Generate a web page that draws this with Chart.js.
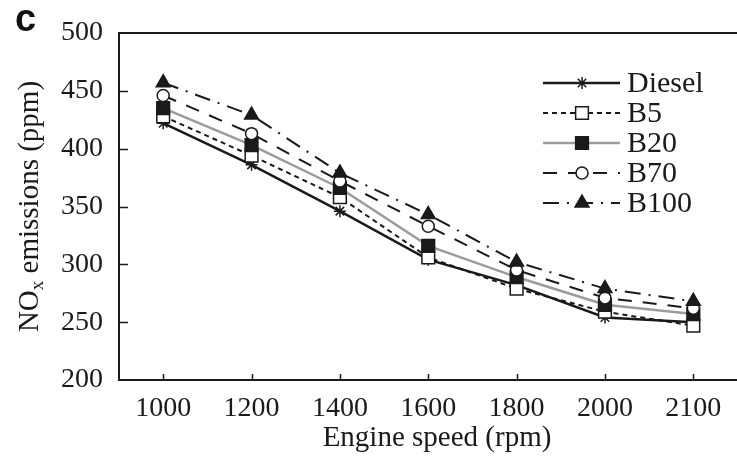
<!DOCTYPE html>
<html lang="en">
<head>
<meta charset="UTF-8">
<title>NOx emissions vs engine speed</title>
<script src="https://cdn.jsdelivr.net/npm/chart.js"></script>
<style>
  html, body { margin: 0; padding: 0; background: #fff; overflow: hidden; }
  #wrap { width: 748px; height: 456px; }
</style>
</head>
<body>
<div id="wrap"><canvas id="noxChart" width="748" height="456"></canvas></div>
<script>
// engine speed categories (rpm)
const speeds = ['1000', '1200', '1400', '1600', '1800', '2000', '2100'];

// NOx emissions (ppm)
const diesel = [422, 386, 346, 304, 282, 254, 250];
const b5     = [428, 394, 358, 306, 279, 259, 247];
const b20    = [435, 403, 366, 316, 289, 265, 257];
const b70    = [446, 413, 372, 333, 295, 271, 262];
const b100   = [457, 429, 379, 343, 302, 279, 268];

const seriesNames = ['Diesel', 'B5', 'B20', 'B70', 'B100'];
const yTicks = [200, 250, 300, 350, 400, 450, 500];

const serif = "'Liberation Serif', 'Times New Roman', serif";
const ink = '#1a1a1a';

// top border, inward ticks, legend and axis titles
const frame = {
    id: 'frame',
    afterDraw(chart) {
        const { ctx, chartArea: a, scales: { x, y } } = chart;
        ctx.save();
        ctx.strokeStyle = ink;
        ctx.lineWidth = 2;
        ctx.beginPath();
        ctx.moveTo(a.left - 1, a.top);
        ctx.lineTo(a.right, a.top);
        ctx.stroke();

        ctx.lineWidth = 1.5;
        yTicks.slice(1, -1).forEach(v => {
            const py = Math.round(y.getPixelForValue(v)) + 0.5;
            ctx.beginPath();
            ctx.moveTo(a.left, py);
            ctx.lineTo(a.left + 9, py);
            ctx.stroke();
        });
        speeds.forEach((s, i) => {
            const px = Math.round(x.getPixelForValue(i)) + 0.5;
            ctx.beginPath();
            ctx.moveTo(px, a.bottom);
            ctx.lineTo(px, a.bottom - 6);
            ctx.stroke();
        });

        // legend: line + marker + name
        chart.data.datasets.forEach((ds, i) => {
            const ly = 83 + i * 30;
            ctx.save();
            ctx.strokeStyle = ds.borderColor;
            ctx.lineWidth = ds.borderWidth;
            ctx.setLineDash(ds.borderDash || []);
            ctx.beginPath();
            ctx.moveTo(543, ly);
            ctx.lineTo(620, ly);
            ctx.stroke();
            ctx.setLineDash([]);
            ctx.fillStyle = ds.pointBackgroundColor;
            ctx.strokeStyle = ds.pointBorderColor;
            ctx.lineWidth = ds.pointBorderWidth;
            Chart.helpers.drawPoint(ctx, {
                pointStyle: ds.pointStyle,
                radius: ds.pointRadius,
                rotation: 0,
                borderWidth: ds.pointBorderWidth
            }, 582, ly);
            ctx.restore();

            ctx.fillStyle = ink;
            ctx.font = '30px ' + serif;
            ctx.textAlign = 'left';
            ctx.textBaseline = 'middle';
            ctx.fillText(ds.label, 627, ly + 1);
        });

        // x title
        ctx.fillStyle = ink;
        ctx.font = '29px ' + serif;
        ctx.textAlign = 'center';
        ctx.textBaseline = 'middle';
        ctx.fillText('Engine speed (rpm)', 437, 438);

        // y title with subscript x
        const big = '29px ' + serif, small = '19px ' + serif;
        ctx.font = big;
        const wNO = ctx.measureText('NO').width;
        const wRest = ctx.measureText(' emissions (ppm)').width;
        ctx.font = small;
        const wx = ctx.measureText('x').width;
        const total = wNO + wx + wRest;
        ctx.translate(28, (a.top + a.bottom) / 2);
        ctx.rotate(-Math.PI / 2);
        ctx.textAlign = 'left';
        ctx.textBaseline = 'alphabetic';
        let cx = -total / 2;
        ctx.font = big;
        ctx.fillText('NO', cx, 10);
        cx += wNO;
        ctx.font = small;
        ctx.fillText('x', cx, 15);
        cx += wx;
        ctx.font = big;
        ctx.fillText(' emissions (ppm)', cx, 10);
        ctx.restore();

        // panel letter
        ctx.save();
        ctx.fillStyle = '#111';
        ctx.font = "bold 38px 'Liberation Sans', Arial, sans-serif";
        ctx.textAlign = 'left';
        ctx.textBaseline = 'alphabetic';
        ctx.fillText('c', 15, 31);
        ctx.restore();
    }
};

new Chart(document.getElementById('noxChart').getContext('2d'), {
    type: 'line',
    data: {
        labels: speeds,
        datasets: [
            {
                label: seriesNames[0], data: diesel, order: 5,
                borderColor: ink, borderWidth: 2.5,
                pointStyle: 'star', pointRadius: 6,
                pointBackgroundColor: ink, pointBorderColor: ink, pointBorderWidth: 1.5
            },
            {
                label: seriesNames[1], data: b5, order: 4,
                borderColor: ink, borderWidth: 2, borderDash: [5, 4],
                pointStyle: 'rect', pointRadius: 9,
                pointBackgroundColor: '#fff', pointBorderColor: ink, pointBorderWidth: 1.5
            },
            {
                label: seriesNames[2], data: b20, order: 3,
                borderColor: '#9c9c9c', borderWidth: 2.5,
                pointStyle: 'rect', pointRadius: 9,
                pointBackgroundColor: ink, pointBorderColor: ink, pointBorderWidth: 1.5
            },
            {
                label: seriesNames[3], data: b70, order: 2,
                borderColor: ink, borderWidth: 2, borderDash: [14, 11],
                pointStyle: 'circle', pointRadius: 6,
                pointBackgroundColor: '#fff', pointBorderColor: ink, pointBorderWidth: 1.5
            },
            {
                label: seriesNames[4], data: b100, order: 1,
                borderColor: ink, borderWidth: 2, borderDash: [16, 8, 2, 8],
                pointStyle: 'triangle', pointRadius: 8,
                pointBackgroundColor: ink, pointBorderColor: ink, pointBorderWidth: 1.5
            }
        ]
    },
    options: {
        responsive: false,
        animation: false,
        devicePixelRatio: 1,
        layout: { padding: { top: 33, right: 0, bottom: 0, left: 0 } },
        plugins: {
            legend: { display: false },
            tooltip: { enabled: false }
        },
        elements: { line: { tension: 0 } },
        scales: {
            x: {
                type: 'category',
                offset: true,
                grid: { display: false, drawTicks: false },
                border: { display: true, color: ink, width: 2 },
                ticks: { color: ink, font: { family: serif, size: 28 }, padding: 12, maxRotation: 0, autoSkip: false },
                afterFit(scale) { scale.height = 76; }
            },
            y: {
                min: 200,
                max: 500,
                grid: { display: false, drawTicks: false },
                border: { display: true, color: ink, width: 2 },
                ticks: { color: ink, stepSize: 50, font: { family: serif, size: 28 }, padding: 16 },
                afterFit(scale) { scale.width = 119; }
            }
        }
    },
    plugins: [frame]
});
</script>
</body>
</html>
